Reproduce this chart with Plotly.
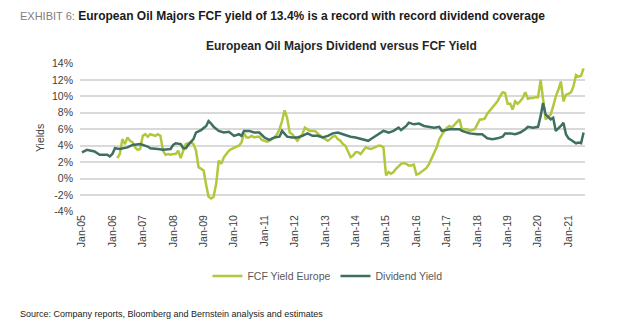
import plotly.graph_objects as go

# Monthly FCF yield, European oil majors (%)
fcf_dates = [
    "2006-03", "2006-04", "2006-05", "2006-06", "2006-07", "2006-08", "2006-09", "2006-10", "2006-11", "2006-12",
    "2007-01", "2007-02", "2007-03", "2007-04", "2007-05", "2007-06", "2007-07", "2007-08", "2007-09", "2007-10",
    "2007-11", "2007-12", "2008-01", "2008-02", "2008-03", "2008-04", "2008-05", "2008-06", "2008-07", "2008-08",
    "2008-09", "2008-10", "2008-11", "2008-12", "2009-01", "2009-02", "2009-03", "2009-04", "2009-05", "2009-06",
    "2009-07", "2009-08", "2009-09", "2009-10", "2009-11", "2009-12", "2010-01", "2010-02", "2010-03", "2010-04",
    "2010-05", "2010-06", "2010-07", "2010-08", "2010-09", "2010-10", "2010-11", "2010-12", "2011-01", "2011-02",
    "2011-03", "2011-04", "2011-05", "2011-06", "2011-07", "2011-08", "2011-09", "2011-10", "2011-11", "2011-12",
    "2012-01", "2012-02", "2012-03", "2012-04", "2012-05", "2012-06", "2012-07", "2012-08", "2012-09", "2012-10",
    "2012-11", "2012-12", "2013-01", "2013-02", "2013-03", "2013-04", "2013-05", "2013-06", "2013-07", "2013-08",
    "2013-09", "2013-10", "2013-11", "2013-12", "2014-01", "2014-02", "2014-03", "2014-04", "2014-05", "2014-06",
    "2014-07", "2014-08", "2014-09", "2014-10", "2014-11", "2014-12", "2015-01", "2015-02", "2015-03", "2015-04",
    "2015-05", "2015-06", "2015-07", "2015-08", "2015-09", "2015-10", "2015-11", "2015-12", "2016-01", "2016-02",
    "2016-03", "2016-04", "2016-05", "2016-06", "2016-07", "2016-08", "2016-09", "2016-10", "2016-11", "2016-12",
    "2017-01", "2017-02", "2017-03", "2017-04", "2017-05", "2017-06", "2017-07", "2017-08", "2017-09", "2017-10",
    "2017-11", "2017-12", "2018-01", "2018-02", "2018-03", "2018-04", "2018-05", "2018-06", "2018-07", "2018-08",
    "2018-09", "2018-10", "2018-11", "2018-12", "2019-01", "2019-02", "2019-03", "2019-04", "2019-05", "2019-06",
    "2019-07", "2019-08", "2019-09", "2019-10", "2019-11", "2019-12", "2020-01", "2020-02", "2020-03", "2020-04",
    "2020-05", "2020-06", "2020-07", "2020-08", "2020-09", "2020-10", "2020-11", "2020-12", "2021-01", "2021-02",
    "2021-03", "2021-04", "2021-05", "2021-06", "2021-07",
]
fcf_yield = [
    2.5, 3.0, 4.8, 4.2, 5.0, 4.6, 4.4, 3.8, 3.5, 3.6,
    5.2, 5.4, 5.1, 5.4, 5.3, 5.2, 5.4, 5.2, 3.4, 2.9,
    3.0, 2.9, 3.0, 3.0, 3.4, 2.5, 3.4, 4.2, 4.3, 4.4,
    4.2, 3.4, 1.4, 1.2, 1.0, -0.8, -2.2, -2.4, -2.2, -0.6,
    2.2, 1.8, 2.6, 3.0, 3.4, 3.6, 3.8, 3.9, 4.0, 4.4,
    5.5, 5.0, 5.0, 5.2, 5.0, 5.1, 5.1, 4.7, 4.6, 4.5,
    4.6, 4.8, 5.0, 5.4, 6.0, 7.0, 8.3, 7.4, 5.6, 5.4,
    5.0, 4.6, 5.0, 5.4, 6.2, 6.0, 5.8, 5.8, 5.8, 5.5,
    5.2, 5.0, 4.8, 4.6, 4.8, 5.1, 5.2, 4.8, 4.6, 4.2,
    4.0, 3.4, 2.6, 2.8, 3.2, 3.2, 3.0, 3.4, 3.8, 3.7,
    3.6, 3.7, 3.9, 4.0, 4.0, 3.8, 0.4, 0.8, 0.6, 0.8,
    1.2, 1.5, 1.8, 1.9, 1.8, 1.6, 1.6, 1.7, 0.5, 0.6,
    0.8, 1.0, 1.3, 1.8, 2.5, 3.2, 3.8, 4.8, 5.4, 5.8,
    6.2, 6.4, 6.2, 6.5, 6.8, 7.2, 6.0, 6.0, 6.0, 5.8,
    5.9, 6.0, 6.6, 7.2, 7.2, 7.3, 7.9, 8.3, 8.6, 9.0,
    9.4, 10.0, 10.5, 10.4, 9.1, 9.1, 8.4, 9.4, 9.1, 9.4,
    9.8, 10.5, 9.7, 9.8, 9.8, 9.9, 9.9, 12.0, 9.4, 7.2,
    7.5, 7.8, 8.8, 10.0, 10.8, 11.8, 9.4, 10.2, 10.3, 10.5,
    11.2, 12.6, 12.4, 12.5, 13.4,
]

# Dividend yield, European oil majors (%)
div_dates = [
    "2005-01", "2005-03", "2005-06", "2005-08", "2005-11", "2005-12", "2006-01", "2006-02", "2006-04", "2006-07",
    "2006-09", "2006-12", "2007-03", "2007-04", "2007-07", "2007-09", "2007-12", "2008-01", "2008-02", "2008-04",
    "2008-05", "2008-06", "2008-07", "2008-08", "2008-09", "2008-10", "2008-12", "2009-02", "2009-03", "2009-04",
    "2009-05", "2009-07", "2009-09", "2009-11", "2010-01", "2010-03", "2010-04", "2010-05", "2010-07", "2010-09",
    "2010-11", "2011-01", "2011-03", "2011-05", "2011-07", "2011-08", "2011-10", "2011-12", "2012-02", "2012-04",
    "2012-06", "2012-08", "2012-10", "2012-12", "2013-02", "2013-04", "2013-06", "2013-08", "2013-11", "2014-01",
    "2014-04", "2014-06", "2014-08", "2014-10", "2014-12", "2015-02", "2015-04", "2015-06", "2015-07", "2015-09",
    "2015-10", "2015-12", "2016-02", "2016-04", "2016-06", "2016-08", "2016-10", "2016-11", "2017-02", "2017-04",
    "2017-06", "2017-07", "2017-10", "2018-01", "2018-03", "2018-05", "2018-07", "2018-09", "2018-11", "2018-12",
    "2019-02", "2019-04", "2019-06", "2019-08", "2019-09", "2019-11", "2020-01", "2020-02", "2020-03", "2020-04",
    "2020-06", "2020-07", "2020-08", "2020-10", "2020-11", "2020-12", "2021-01", "2021-02", "2021-04", "2021-05",
    "2021-06", "2021-07",
]
div_yield = [
    3.2, 3.5, 3.3, 2.9, 2.9, 2.7, 3.0, 3.7, 3.6, 3.8,
    4.1, 4.2, 3.9, 3.7, 3.6, 3.5, 3.6, 4.1, 4.3, 4.2,
    3.7, 3.7, 4.1, 4.4, 4.8, 5.6, 5.9, 6.4, 7.0, 6.7,
    6.3, 5.8, 5.6, 5.7, 5.2, 5.4, 5.2, 5.8, 5.8, 5.6,
    5.6, 5.0, 4.7, 5.0, 5.1, 5.8, 5.1, 5.0, 5.0, 5.2,
    5.5, 5.2, 5.2, 5.0, 5.2, 5.5, 5.6, 5.4, 5.1, 5.0,
    4.8, 4.6, 5.0, 5.4, 5.8, 5.6, 5.8, 6.2, 5.9, 6.4,
    6.8, 6.6, 6.7, 6.4, 6.3, 6.2, 6.3, 5.8, 6.0, 6.0,
    6.0, 5.8, 5.5, 5.4, 5.4, 4.9, 4.8, 4.9, 5.1, 5.5,
    5.5, 5.4, 5.6, 6.0, 6.3, 6.2, 6.3, 7.6, 9.2, 7.8,
    7.2, 7.4, 5.8, 6.4, 6.8, 5.4, 4.9, 4.7, 4.3, 4.4,
    4.3, 5.6,
]

y_ticks = [-4, -2, 0, 2, 4, 6, 8, 10, 12, 14]
y_tick_text = [f"{v}%" for v in y_ticks]

FCF_COLOR = "#b2c73c"
DIV_COLOR = "#3f6f5f"
FONT = "Liberation Sans, Arial, sans-serif"

fig = go.Figure()
fig.add_trace(go.Scatter(x=fcf_dates, y=fcf_yield, mode="lines", name="FCF Yield Europe",
                         line=dict(color=FCF_COLOR, width=2.5)))
fig.add_trace(go.Scatter(x=div_dates, y=div_yield, mode="lines", name="Dividend Yield",
                         line=dict(color=DIV_COLOR, width=2.5)))

fig.update_layout(
    width=629, height=330,
    margin=dict(l=80, r=44, t=63, b=118),
    paper_bgcolor="white", plot_bgcolor="white",
    font=dict(family=FONT, color="#404040", size=10.5),
    showlegend=True,
    legend=dict(orientation="h", x=0.49, xanchor="center", y=-0.43, yanchor="middle",
                font=dict(size=10.5, color="#595959"), itemwidth=30, tracegroupgap=0),
    xaxis=dict(
        type="date", range=["2004-12-08", "2021-07-18"],
        tick0="2005-01-01", dtick="M12", tickformat="%b-%y", tickangle=-90,
        showgrid=False, showline=False, zeroline=False, ticks="",
        tickfont=dict(size=10.5, color="#404040"),
    ),
    yaxis=dict(
        range=[-4.05, 14.05], tickvals=y_ticks, ticktext=y_tick_text,
        showgrid=True, gridcolor="#d9d9d9", gridwidth=1.6, zeroline=False,
        showline=False, ticks="", ticklabelstandoff=6,
        tickfont=dict(size=10.5, color="#404040"),
    ),
    annotations=[
        dict(text="<span style='color:#808080;font-size:11px'>EXHIBIT 6:</span> "
                  "<b>European Oil Majors FCF yield of 13.4% is a record with record dividend coverage</b>",
             xref="paper", yref="paper", x=(18 - 80) / 505, y=(212 - 16) / 149,
             xanchor="left", yanchor="middle", showarrow=False,
             font=dict(size=12, color="#1a1a1a", family=FONT)),
        dict(text="<b>European Oil Majors Dividend versus FCF Yield</b>",
             xref="paper", yref="paper", x=(341 - 80) / 505, y=(212 - 46) / 149,
             xanchor="center", yanchor="middle", showarrow=False,
             font=dict(size=12, color="#262626", family=FONT)),
        dict(text="Yields", textangle=-90,
             xref="paper", yref="paper", x=(40 - 80) / 505, y=(212 - 138) / 149,
             xanchor="center", yanchor="middle", showarrow=False,
             font=dict(size=10.5, color="#404040", family=FONT)),
        dict(text="Source: Company reports, Bloomberg and Bernstein analysis and estimates",
             xref="paper", yref="paper", x=(18 - 80) / 505, y=(212 - 314) / 149,
             xanchor="left", yanchor="middle", showarrow=False,
             font=dict(size=9, color="#1a1a1a", family=FONT)),
    ],
)

fig.write_html("out.html")
